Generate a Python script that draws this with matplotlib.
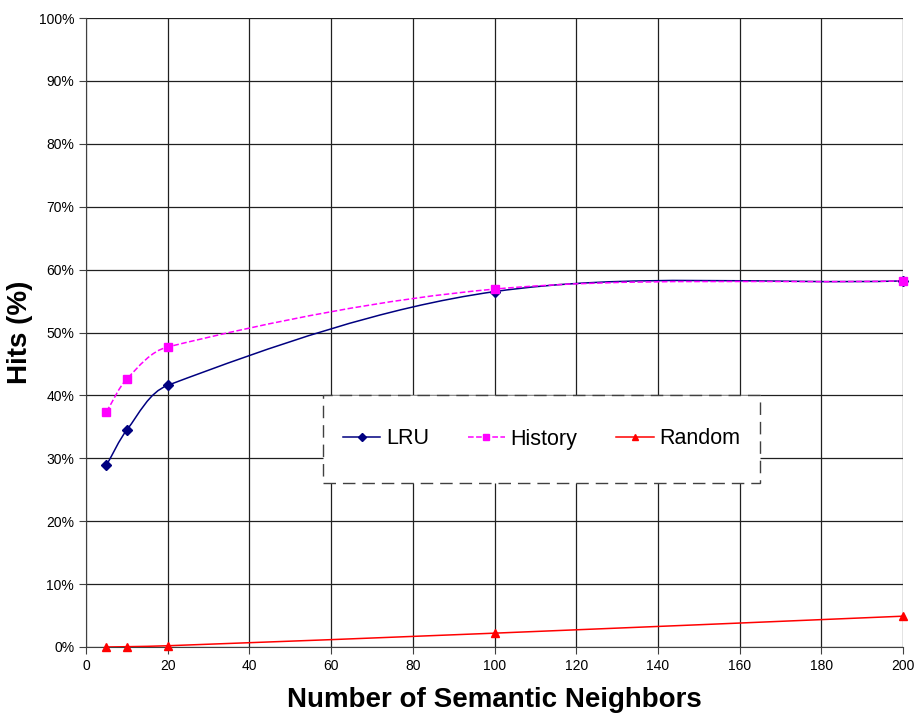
import matplotlib
matplotlib.use("Agg")
import matplotlib.pyplot as plt
from matplotlib.path import Path
import matplotlib.patches as patches
import matplotlib.ticker as mticker
import numpy as np

plt.rcParams['font.family'] = ['Liberation Sans', 'DejaVu Sans']

# data
neighbors = [5, 10, 20, 100, 200]
lru = [28.9, 34.5, 41.6, 56.5, 58.2]
history = [37.4, 42.6, 47.7, 56.9, 58.2]
random_hits = [0.0, 0.05, 0.2, 2.2, 4.9]

# axes box in pixels (left, right, top, bottom)
L, R, T, B = 86, 903, 18, 647
W, H = R - L, B - T


def smooth_path(xs, ys, xmax=200.0, ymax=100.0):
    # excel-like smoothed line, tangents worked out in screen space
    sx, sy = W / xmax, H / ymax
    pts = np.column_stack([np.asarray(xs) * sx, np.asarray(ys) * sy]).astype(float)
    n = len(pts)
    dirs = []
    for i in range(n):
        d = pts[min(i + 1, n - 1)] - pts[max(i - 1, 0)]
        dirs.append(d / np.hypot(*d))
    verts = [pts[0]]
    codes = [Path.MOVETO]
    for i in range(n - 1):
        ln = np.hypot(*(pts[i + 1] - pts[i]))
        verts += [pts[i] + dirs[i] * ln / 3, pts[i + 1] - dirs[i + 1] * ln / 3, pts[i + 1]]
        codes += [Path.CURVE4] * 3
    verts = np.array(verts) / [sx, sy]
    return Path(verts, codes)


fig = plt.figure(figsize=(9.18, 7.17), dpi=100)
ax = fig.add_axes([L / 918, 1 - B / 717, W / 918, H / 717])
ax.set_xlim([0, 200])
ax.set_ylim([0, 100])

series = [
    ("LRU", lru, "#000080", "-", "D", 5),
    ("History", history, "#FF00FF", "--", "s", 6),
    ("Random", random_hits, "#FF0000", "-", "^", 6),
]
for name, vals, col, ls, mk, ms in series:
    ax.add_patch(patches.PathPatch(smooth_path(neighbors, vals), facecolor="none",
                                   edgecolor=col, linestyle=ls, linewidth=1.1, zorder=3))
    ax.plot(neighbors, vals, linestyle="none", marker=mk, markersize=ms, color=col,
            clip_on=False, zorder=4)
    # legend entry (line + marker)
    ax.plot([], [], linestyle=ls, marker=mk, markersize=ms - 1, color=col, linewidth=1.1, label=name)

ax.set_xticks(np.arange(0, 201, 20))
ax.set_yticks(np.arange(0, 101, 10))
ax.yaxis.set_major_formatter(mticker.FuncFormatter(lambda v, p: "%d%%" % v))
ax.grid(True, color="#202020", linewidth=0.9)
ax.set_axisbelow(True)
ax.tick_params(labelsize=10, direction="out", length=5, color="#404040")
for s in ["top", "right"]:
    ax.spines[s].set_visible(False)
for s in ["left", "bottom"]:
    ax.spines[s].set_color("#404040")

ax.set_xlabel("Number of Semantic Neighbors", fontsize=20, fontweight="bold", labelpad=10)
ax.set_ylabel("Hits (%)", fontsize=20, fontweight="bold")
ax.yaxis.set_label_coords((33 - L) / W, 0.5)

# dashed legend box
bx0, bx1, by0, by1 = 323, 760, 395, 483
box = patches.Rectangle(((bx0 - L) / W, (B - by1) / H), (bx1 - bx0) / W, (by1 - by0) / H,
                        transform=ax.transAxes, facecolor="white", edgecolor="#404040",
                        linewidth=1.0, linestyle=(0, (9, 5)), zorder=5)
ax.add_patch(box)
leg = ax.legend(loc="center", bbox_to_anchor=(((bx0 + bx1) / 2 - L) / W, (B - (by0 + by1) / 2) / H),
                ncol=3, fontsize=15.5, frameon=False, handlelength=1.75,
                columnspacing=1.8, handletextpad=0.25, borderpad=0, borderaxespad=0)
leg.set_zorder(6)

fig.savefig("out.png", dpi=100)
